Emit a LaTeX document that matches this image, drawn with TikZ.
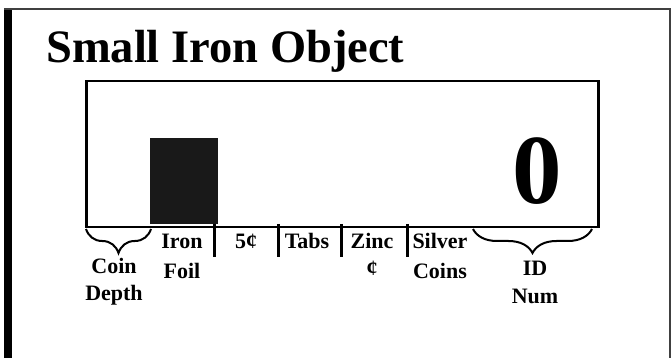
\documentclass[tikz,border=0pt]{standalone}
\usepackage{fontspec}
\setmainfont{Liberation Serif}
\usetikzlibrary{decorations.pathreplacing}

\begin{document}
\begin{tikzpicture}
    [x=1pt,y=-1pt,
     caption/.style={font=\fontsize{22}{28}\selectfont\bfseries,
        align=center,anchor=base,inner sep=0pt},
     divider/.style={line width=3pt},
     curly/.style={decorate,decoration={brace,mirror,amplitude=24pt},
        line width=2pt}]
\useasboundingbox (0,0) rectangle (672,358);
% outer frame, open at the bottom
\draw [line width=8pt] (8,358) -- (8,9);
\draw [line width=2pt,black!75] (4,9) -- (670,9) -- (670,358);
\path
    (46,63) node [anchor=base west,inner sep=0pt,
        font=\fontsize{46.5}{50}\selectfont\bfseries] (title)
        {Small Iron Object};

% display window
\path
    [inner sep=0pt]
    (85,80) node [draw,line width=2.5pt,anchor=north west,
        minimum width=512pt,minimum height=146pt] (screen) {}
    (150,224) node [fill=black!90,anchor=south west,
        minimum width=68pt,minimum height=86pt] (bar) {}
    (537,204) node [anchor=base,font=\fontsize{99}{100}\selectfont\bfseries]
        (value) {0};

% scale below the window
\path
    (214,224) coordinate (d1) +(0,33) coordinate (e1)
    (278,224) coordinate (d2) +(0,33) coordinate (e2)
    (341,224) coordinate (d3) +(0,33) coordinate (e3)
    (407,224) coordinate (d4) +(0,33) coordinate (e4);
\draw [divider] (d1) -- (e1) (d2) -- (e2) (d3) -- (e3) (d4) -- (e4);
\path
    (86,229) coordinate (depthstart)
    (151,229) coordinate (depthend)
    (473,229) coordinate (idstart)
    (592,229) coordinate (idend);
\draw [curly] (depthstart) -- (depthend);
\draw [curly] (idstart) -- (idend);

% labels (base = last line)
\path
    [caption]
    (114,300) node (depth) {Coin\\[-1pt]Depth}
    (182,278) node (foil) {Iron\\[2pt]Foil}
    (246,248) node (nickel) {5¢}
    (307,248) node (tabs) {Tabs}
    (372,276) node (zinc) {Zinc\\¢}
    (440,278) node (silver) {Silver\\[2pt]Coins}
    (535,303) node (idnum) {ID\\Num};
\end{tikzpicture}
\end{document}
